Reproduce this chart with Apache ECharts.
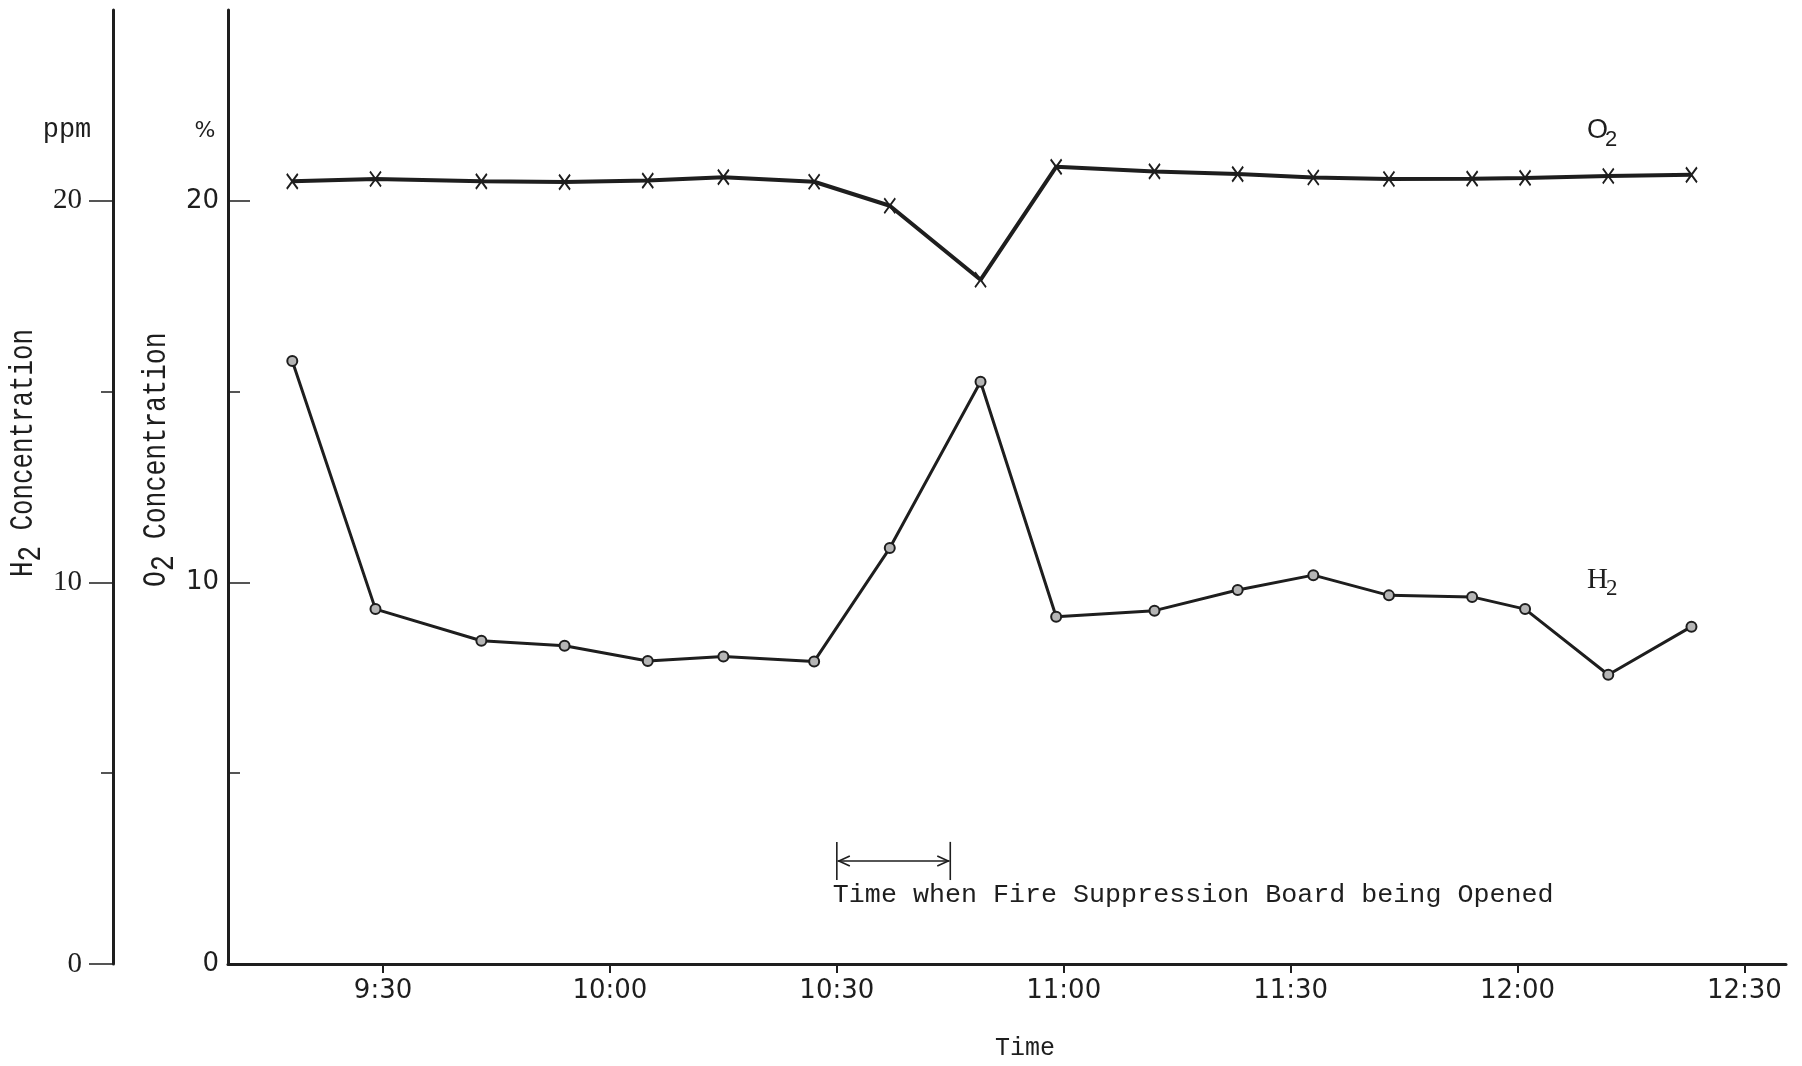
<!DOCTYPE html>
<html>
<head>
<meta charset="utf-8">
<title>O2 and H2 Concentration</title>
<style>
  html, body { margin: 0; padding: 0; background: #ffffff; }
  #chart { width: 1802px; height: 1066px; }
</style>
<script src="https://cdn.jsdelivr.net/npm/echarts@6/dist/echarts.min.js"></script>
</head>
<body>
<div id="chart"></div>
<script>
// Sampling times (clock time)
const times = ['9:18', '9:29', '9:43', '9:54', '10:05', '10:15', '10:27', '10:37', '10:49',
               '10:59', '11:12', '11:23', '11:33', '11:43', '11:54', '12:01', '12:12', '12:23'];
// O2 concentration, %
const o2Percent = [20.51, 20.57, 20.51, 20.49, 20.53, 20.62, 20.50, 19.87, 17.93,
                   20.89, 20.77, 20.70, 20.61, 20.57, 20.58, 20.60, 20.65, 20.68];
// H2 concentration, ppm
const h2Ppm = [15.80, 9.30, 8.47, 8.34, 7.94, 8.06, 7.93, 10.90, 15.26,
               9.10, 9.26, 9.80, 10.19, 9.66, 9.62, 9.30, 7.58, 8.84];
// Axis ticks
const timeTicks = ['9:30', '10:00', '10:30', '11:00', '11:30', '12:00', '12:30'];
const concTicks = [0, 10, 20];
// Period during which the fire suppression board was open
const openingWindow = ['10:30', '10:45'];

const INK = '#1e1e1e';
const toMin = s => { const [h, m] = s.split(':').map(Number); return h * 60 + m; };
const fmtTime = v => Math.floor(v / 60) + ':' + String(Math.round(v % 60)).padStart(2, '0');

const chart = echarts.init(document.getElementById('chart'), null, { renderer: 'canvas' });

const concAxis = (opts) => Object.assign({
  type: 'value',
  min: 0,
  max: 25,
  interval: 10,
  splitLine: { show: false },
  axisLine: { show: true, onZero: false, lineStyle: { color: INK, width: 3 } },
  minorTick: { show: true, splitNumber: 2, length: 12, lineStyle: { color: INK, width: 1.5 } },
  minorSplitLine: { show: false }
}, opts);

const option = {
  animation: false,
  backgroundColor: '#ffffff',
  grid: { left: 228, right: 16, top: 10, bottom: 102, containLabel: false },
  xAxis: {
    type: 'value',
    min: 549.5,
    max: 755.5,
    splitLine: { show: false },
    axisLine: { show: true, onZero: false, lineStyle: { color: INK, width: 3 } },
    axisTick: { show: true, customValues: timeTicks.map(toMin), length: 9, lineStyle: { color: INK, width: 2 } },
    axisLabel: {
      customValues: timeTicks.map(toMin),
      formatter: v => fmtTime(v),
      fontFamily: 'DejaVu Sans', fontSize: 26, color: INK, margin: 14
    }
  },
  yAxis: [
    concAxis({
      position: 'left', offset: 0,
      axisTick: { show: true, inside: true, customValues: concTicks, length: 22, lineStyle: { color: INK, width: 1.5 } },
      axisLabel: { customValues: concTicks, fontFamily: 'DejaVu Sans', fontSize: 26, color: INK, margin: 9 }
    }),
    concAxis({
      position: 'left', offset: 115,
      axisTick: { show: true, inside: false, customValues: concTicks, length: 24, lineStyle: { color: INK, width: 1.5 } },
      axisLabel: { customValues: concTicks, fontFamily: 'Liberation Serif', fontSize: 29, color: INK, margin: 31 }
    })
  ],
  series: [
    {
      name: 'O2',
      type: 'line',
      xAxisIndex: 0, yAxisIndex: 0,
      data: times.map((t, i) => [toMin(t), o2Percent[i]]),
      symbol: 'path://M0 0 L10 14 M10 0 L0 14',
      symbolSize: [11, 15],
      itemStyle: { color: INK, borderColor: INK, borderWidth: 2 },
      lineStyle: { color: INK, width: 4 },
      z: 3
    },
    {
      name: 'H2',
      type: 'line',
      xAxisIndex: 0, yAxisIndex: 1,
      data: times.map((t, i) => [toMin(t), h2Ppm[i]]),
      symbol: 'circle',
      symbolSize: 10,
      itemStyle: { color: '#b5b5b5', borderColor: INK, borderWidth: 2 },
      lineStyle: { color: INK, width: 3 },
      z: 3
    }
  ]
};

chart.setOption(option);

// --- text and annotation overlays ---
const mono = 'Liberation Mono';
function txt(x, y, text, font, size, extra) {
  return {
    type: 'text', x: x, y: y, silent: true,
    style: Object.assign({ text: text, fontFamily: font, fontSize: size, fill: INK,
                           textAlign: 'left', verticalAlign: 'middle' }, extra || {})
  };
}

// Vertical axis title typed as monospaced cells: X, subscript 2, space, "Concentration"
function verticalTitle(cx, yStart, letter, scale) {
  const F = 34, adv = 0.6 * F;
  return {
    type: 'group', x: cx, y: yStart, rotation: Math.PI / 2, scaleX: scale, silent: true,
    children: [
      txt(0, 0, letter, mono, F),
      txt(adv, 8, '2', mono, F),
      txt(3 * adv, 0, 'Concentration', mono, F)
    ]
  };
}

const toPx = (t, v) => chart.convertToPixel({ xAxisIndex: 0, yAxisIndex: 0 }, [t, v]);
const [ax0, ay] = toPx(toMin(openingWindow[0]), 2.7);
const [ax1] = toPx(toMin(openingWindow[1]), 2.7);
const yTop = toPx(toMin(openingWindow[0]), 3.2)[1];
const yBot = toPx(toMin(openingWindow[0]), 2.2)[1];
const yNote = toPx(toMin(openingWindow[0]), 1.82)[1];
const lineSty = { stroke: INK, lineWidth: 1.6 };

chart.setOption({
  graphic: [
    // axis units
    txt(67, 130, 'ppm', mono, 27, { textAlign: 'center' }),
    txt(205, 131, '%', 'DejaVu Sans', 22, { textAlign: 'center' }),
    // axis titles
    verticalTitle(23, 577, 'H', 0.76),
    verticalTitle(156, 587, 'O', 0.78),
    txt(1025, 1048, 'Time', mono, 25, { textAlign: 'center' }),
    // series names
    txt(1587, 131, 'O', 'Liberation Sans', 27),
    txt(1605, 140, '2', 'Liberation Sans', 22),
    txt(1587, 580, 'H', 'Liberation Serif', 29),
    txt(1606, 589, '2', 'Liberation Serif', 23),
    // opening window bracket
    { type: 'line', silent: true, shape: { x1: ax0, y1: yTop, x2: ax0, y2: yBot }, style: lineSty },
    { type: 'line', silent: true, shape: { x1: ax1, y1: yTop, x2: ax1, y2: yBot }, style: lineSty },
    { type: 'line', silent: true, shape: { x1: ax0 + 1, y1: ay, x2: ax1 - 1, y2: ay }, style: lineSty },
    { type: 'polyline', silent: true, shape: { points: [[ax0 + 13, ay - 5], [ax0 + 2, ay], [ax0 + 13, ay + 5]] }, style: Object.assign({ fill: null }, lineSty) },
    { type: 'polyline', silent: true, shape: { points: [[ax1 - 13, ay - 5], [ax1 - 2, ay], [ax1 - 13, ay + 5]] }, style: Object.assign({ fill: null }, lineSty) },
    txt(ax0 - 4, yNote, 'Time when Fire Suppression Board being Opened', mono, 26.7)
  ]
});
</script>
</body>
</html>
